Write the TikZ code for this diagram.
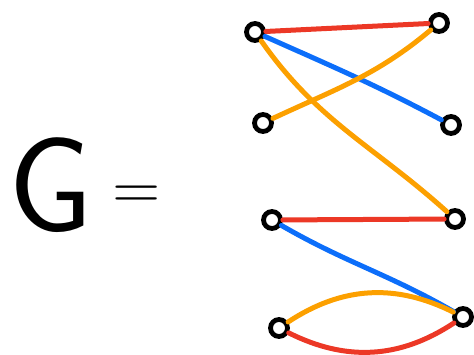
\documentclass[tikz,border=0pt]{standalone}
\usepackage{tikz}
\usetikzlibrary{positioning}
\definecolor{cRed}{RGB}{236,56,38}
\definecolor{cBlue}{RGB}{12,110,250}
\definecolor{cOrange}{RGB}{252,160,0}
\tikzset{
  vert/.style={circle,draw=black,line width=4.8pt,minimum size=17pt,
               inner sep=0pt},
  bigtxt/.style={inner sep=0pt,font=\sffamily},
  rededge/.style={draw=cRed,line width=5pt,line cap=round},
  bluedge/.style={draw=cBlue,line width=5pt,line cap=round},
  ornedge/.style={draw=cOrange,line width=5pt,line cap=round}
}
\begin{document}
\begin{tikzpicture}[x=1pt,y=-1pt]

  \useasboundingbox (0,0) rectangle (474,355);

  % Label
  \node[bigtxt,anchor=west] (gname) at (8,185)
      {\fontsize{135}{135}\selectfont G};
  \node[bigtxt] (eq) at (137,198)
      {\fontsize{66}{66}\selectfont =};

  % Left vertices
  \node[vert] (u1) at (255,32) {};
  \node[vert] (u2) at (263,123) {};
  \node[vert] (u3) at (272,220) {};
  \node[vert] (u4) at (279,328) {};

  % Right vertices
  \node[vert] (v1) at (439,23) {};
  \node[vert] (v2) at (451,125) {};
  \node[vert] (v3) at (455,219) {};
  \node[vert] (v4) at (463,317) {};

  % Edges
  \draw[rededge] (u1) -- (v1);
  \draw[bluedge] (u1) to[out=-24,in=152] (v2);
  \draw[ornedge] (v1) to[out=-140,in=25] (u2);
  \draw[ornedge] (u1) to[out=-55,in=138] (v3);
  \draw[rededge] (u3) -- (v3);
  \draw[bluedge] (u3) to[out=-30,in=150] (v4);
  \draw[ornedge] (u4) to[bend left=30] (v4);
  \draw[rededge] (u4) to[bend right=30] (v4);

\end{tikzpicture}
\end{document}
